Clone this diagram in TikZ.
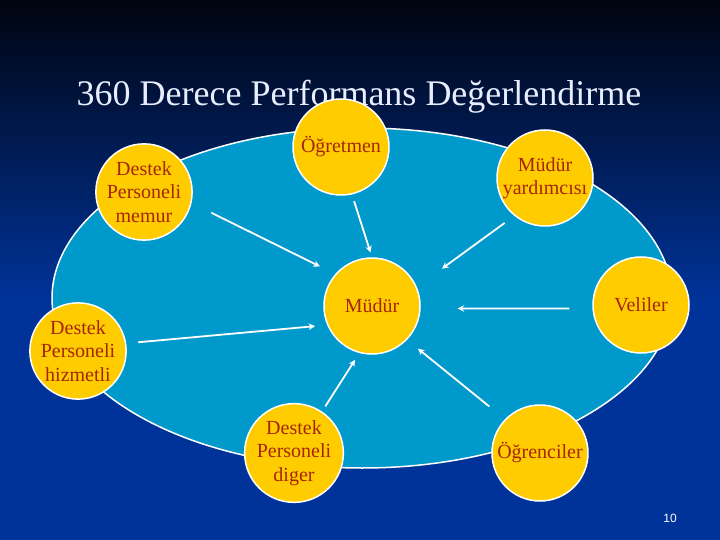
\documentclass[tikz,border=0pt]{standalone}
\usepackage{fontspec}
\setmainfont{Liberation Serif}
\setsansfont{Liberation Sans}
\usepackage{tikz}
\usetikzlibrary{arrows.meta}
\usepackage{xcolor}
\definecolor{bgtop}{RGB}{0,4,16}
\definecolor{bgbot}{RGB}{0,51,153}
\definecolor{ovalblue}{RGB}{0,153,204}
\definecolor{sunny}{RGB}{255,204,0}
\definecolor{rust}{RGB}{165,38,5}
\definecolor{paleblue}{RGB}{232,238,255}

\begin{document}
\begin{tikzpicture}[x=1pt,y=-1pt,
  kisi/.style={circle,draw=white,line width=1.5pt,fill=sunny,minimum size=96pt,
    inner sep=0pt,align=center,text=rust,font=\fontsize{20}{23.5}\selectfont},
  ok/.style={-{Stealth[length=6.5pt,width=6.5pt]},draw=white,line width=1.8pt}]
\useasboundingbox (0,0) rectangle (720,540);
% arka plan
\shade[top color=bgtop,bottom color=bgbot] (0,0) rectangle (720,300);
\fill[bgbot] (0,299) rectangle (720,540);
% baslik
\node[anchor=base,text=paleblue,font=\fontsize{36}{40}\selectfont] (baslik) at (359,106)
  {360 Derece Performans Değerlendirme};
% buyuk oval
\draw[white,line width=1.5pt,fill=ovalblue] (362,298) ellipse [x radius=310,y radius=170];

% kisiler
\node[kisi] (mudur) at (372,306) {Müdür};
\node[kisi] (memur) at (144,192) {Destek\\Personeli\\memur};
\node[kisi] (ogretmen) at (341,147) {Öğretmen};
\node[kisi] (yrd) at (545,178) {Müdür\\yardımcısı};
\node[kisi] (veliler) at (641,305) {Veliler};
\node[kisi] (hizmetli) at (78,351) {Destek\\Personeli\\hizmetli};
\node[kisi] (diger) at (294,453) {Destek\\Personeli\\diger};
\node[kisi] (ogrenci) at (540,453) {Öğrenciler};

% oklar
\draw[ok,shorten <=22pt,shorten >=17pt] (memur.347) -- (mudur.139);
\draw[ok,shorten <=7pt,shorten >=5pt] (ogretmen.283) -- (mudur.90);
\draw[ok,shorten <=12pt,shorten >=31pt] (yrd.231) -- (mudur.23);
\draw[ok,shorten <=23pt,shorten >=37pt] (veliler.184) -- (mudur.357);
\draw[ok,shorten <=12pt,shorten >=12pt] (hizmetli.9) -- (mudur.203);
\draw[ok,shorten <=6pt,shorten >=8pt] (diger.56) -- (mudur.255);
\draw[ok,shorten <=20pt,shorten >=14pt] (ogrenci.136) -- (mudur.316);

\node[text=white,font=\sffamily\fontsize{12}{14}\selectfont] (sayfa) at (670,518) {10};
\end{tikzpicture}
\end{document}
